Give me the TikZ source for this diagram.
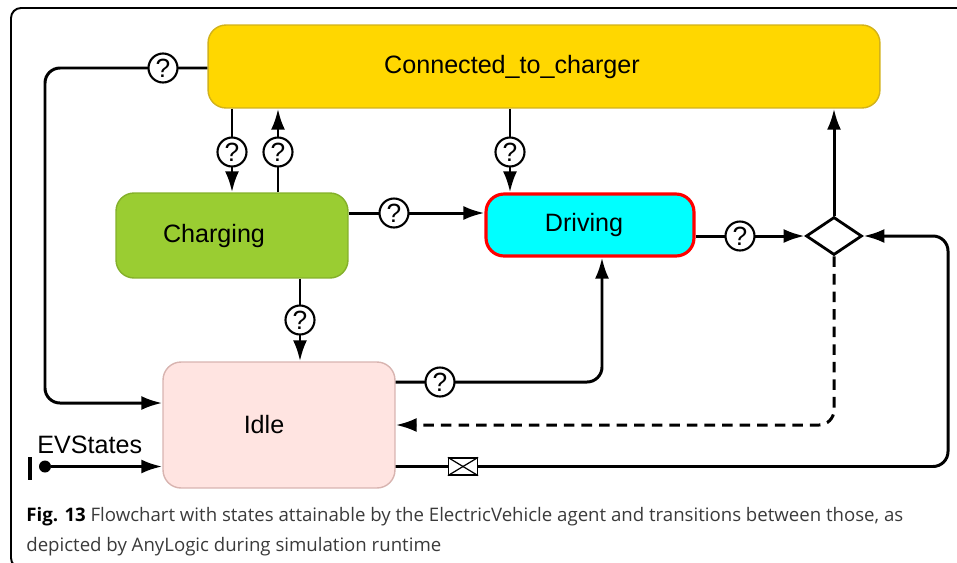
\documentclass[tikz,border=0pt]{standalone}
\usepackage{fontspec}
\setmainfont{Open Sans}
\newfontfamily\statefont{Liberation Sans}
\usetikzlibrary{shapes.geometric,arrows.meta}

\definecolor{connfill}{HTML}{FFD700}
\definecolor{connline}{HTML}{D2B21A}
\definecolor{chgfill}{HTML}{9ACD32}
\definecolor{chgline}{HTML}{84B02A}
\definecolor{drvfill}{HTML}{00FFFF}
\definecolor{drvline}{HTML}{FF0000}
\definecolor{idlefill}{HTML}{FFE4E1}
\definecolor{idleline}{HTML}{D8B4B0}
\definecolor{captext}{HTML}{3A3A3A}

\tikzset{
  state/.style={draw,rounded corners=0.36cm,line width=0.8pt,inner sep=0pt},
  statename/.style={font=\statefont\fontsize{14.3}{17}\selectfont},
  flow/.style={line width=1.7pt,-{Latex[length=0.42cm,width=0.28cm]},rounded corners=0.3cm},
  guard/.style={circle,draw,fill=white,line width=1.2pt,minimum size=0.58cm,inner sep=0pt,font=\statefont\fontsize{15}{15}\selectfont},
}

\begin{document}
\begin{tikzpicture}[x=0.02cm,y=-0.02cm]
\useasboundingbox (0,0) rectangle (957,562);

\draw[line width=1.1pt,rounded corners=0.2cm] (22,568) -- (11,568) -- (11,8) -- (962,8);

\node[state,fill=connfill,draw=connline,minimum width=13.44cm,minimum height=1.66cm,
  label={[name=connname,statename,xshift=-0.64cm]center:Connected\_to\_charger}] (conn) at (544,66.5) {};
\node[state,fill=chgfill,draw=chgline,minimum width=4.64cm,minimum height=1.70cm,
  label={[name=chgname,statename,xshift=-0.36cm]center:Charging}] (chg) at (232,235.5) {};
\node[state,fill=drvfill,draw=drvline,line width=1.8pt,minimum width=4.16cm,minimum height=1.24cm,
  label={[name=drvname,statename,xshift=-0.12cm]center:Driving}] (drv) at (590,225) {};
\node[state,fill=idlefill,draw=idleline,minimum width=4.64cm,minimum height=2.52cm,
  label={[name=idlename,statename,xshift=-0.3cm]center:Idle}] (idle) at (279,425) {};
\node[diamond,draw,fill=white,line width=1.6pt,minimum width=1.12cm,minimum height=0.76cm,inner sep=0pt] (br) at (834,236) {};

\coordinate (g1) at (163,68);
\coordinate (g2) at (232,152);
\coordinate (g3) at (278,152);
\coordinate (g4) at (510,152);
\coordinate (g5) at (394,213);
\coordinate (g6) at (300,320);
\coordinate (g7) at (440,382);
\coordinate (g8) at (740,236);
\coordinate (lft) at (45,0);
\coordinate (dup) at (602,0);
\coordinate (rgt) at (948,0);
\coordinate (idleA) at ([yshift=0.44cm]idle.west);
\coordinate (idleD) at ([yshift=-0.83cm]idle.east);

\draw[flow] (conn.west |- g1) -- (g1) -- (g1 -| lft) -- (lft |- idleA) -- (idleA);
\draw[flow] (g2 |- conn.south) -- (g2) -- (g2 |- chg.north);
\draw[flow] (g3 |- chg.north) -- (g3) -- (g3 |- conn.south);
\draw[flow] (g4 |- conn.south) -- (g4) -- (g4 |- drv.north);
\draw[flow] (chg.east |- g5) -- (g5) -- (drv.west |- g5);
\draw[flow] (g6 |- chg.south) -- (g6) -- (g6 |- idle.north);
\draw[flow] (idle.east |- g7) -- (g7) -- (g7 -| dup) -- (dup |- drv.south);
\draw[flow] (drv.east |- g8) -- (g8) -- (br.west);
\draw[flow] (br.north) -- (br.north |- conn.south);
\draw[flow,dashed,dash pattern=on 6pt off 4pt] (br.south) -- (br.south |- idle.east) -- (idle.east);
\draw[flow] (idleD) -- (idleD -| rgt) -- (rgt |- br) -- (br.east);

\node[guard] (q1) at (g1) {?};
\node[guard] (q2) at (g2) {?};
\node[guard] (q3) at (g3) {?};
\node[guard] (q4) at (g4) {?};
\node[guard] (q5) at (g5) {?};
\node[guard] (q6) at (g6) {?};
\node[guard] (q7) at (g7) {?};
\node[guard] (q8) at (g8) {?};

\node[draw,fill=white,line width=0.7pt,minimum width=0.58cm,minimum height=0.34cm,inner sep=0pt] (env) at (463,466.5) {};
\draw[line width=0.7pt] (env.north west) -- (env.center) -- (env.north east);
\draw[line width=0.7pt] (env.south west) -- (env.center) -- (env.south east);

\node[fill,minimum width=0.07cm,minimum height=0.46cm,inner sep=0pt] (initbar) at (30,468) {};
\node[circle,fill,minimum size=0.24cm,inner sep=0pt] (init) at (45,466.5) {};
\draw[flow] (init) -- (init -| idle.west);
\node[statename,anchor=base west,inner sep=0pt] (evs) at (37,453) {EVStates};

\node[anchor=base west,inner sep=0pt,text=captext,font=\fontsize{10.6}{12}\selectfont] (cap1) at (26,521)
  {\textcolor{black}{\textbf{Fig. 13}} Flowchart with states attainable by the ElectricVehicle agent and transitions between those, as};
\node[anchor=base west,inner sep=0pt,text=captext,font=\fontsize{10.6}{12}\selectfont] (cap2) at (26,551)
  {depicted by AnyLogic during simulation runtime};
\end{tikzpicture}
\end{document}
